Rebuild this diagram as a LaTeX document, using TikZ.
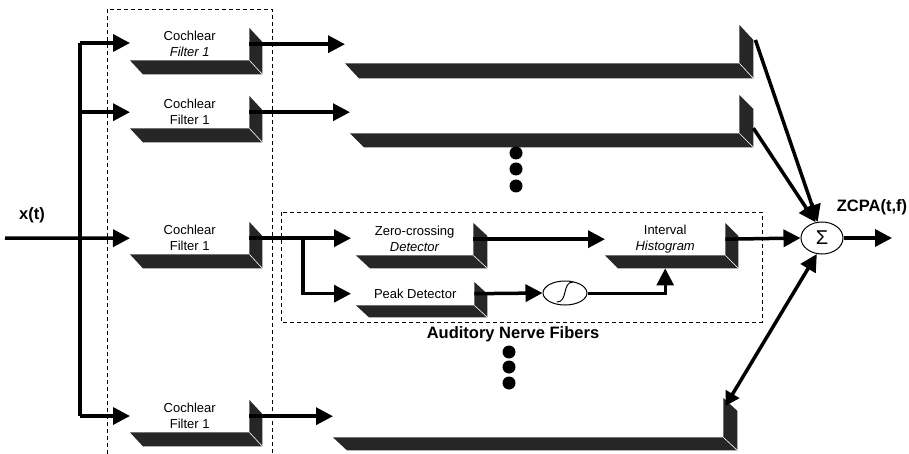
\documentclass[tikz,border=0pt]{standalone}
\usepackage{fontspec}
\setmainfont{Liberation Sans}
\usetikzlibrary{positioning, calc, arrows.meta, shapes.geometric}
\colorlet{slabcol}{black!85}
% dark bottom and right faces behind a white front face
\newcommand{\slab}[2]{%
  \fill[slabcol] (#1.south west) -- (#1.south east) -- ($(#1.south east)+(#2)$) -- ($(#1.south west)+(#2)$) -- cycle;
  \fill[slabcol] (#1.north east) -- ($(#1.north east)+(#2)$) -- ($(#1.south east)+(#2)$) -- (#1.south east) -- cycle;
  \draw[white, line width=0.6pt] (#1.south east) -- ($(#1.south east)+(#2)$);}

\begin{document}
\begin{tikzpicture}[x=1pt, y=-1pt, font=\fontsize{13}{16}\selectfont,
  face/.style={inner sep=0, align=center, anchor=north west},
  arr/.style={line width=3.5pt, -{Triangle[length=17pt,width=17pt]}},
  wire/.style={line width=3.5pt},
  frame/.style={line width=0.8pt, dash pattern=on 4pt off 3pt},
  dot/.style={circle, fill, inner sep=0, minimum size=13pt},
  big/.style={font=\bfseries\fontsize{16.5}{18}\selectfont}]
  \useasboundingbox (0,0) rectangle (909,454);
  % cochlear filters
  \node[face, minimum width=119pt, minimum height=32pt] (F1) at (130,28) {Cochlear\\\textit{Filter 1}};
  \node[face, minimum width=119pt, minimum height=32pt] (F2) at (130,96) {Cochlear\\Filter 1};
  \node[face, minimum width=119pt, minimum height=32pt] (F3) at (130,222) {Cochlear\\Filter 1};
  \node[face, minimum width=119pt, minimum height=32pt] (F4) at (130,400) {Cochlear\\Filter 1};
  \foreach \n in {F1,F2,F3,F4} {\slab{\n}{13,14}}
  % collapsed fibers
  \node[face, minimum width=394pt, minimum height=38pt] (L1) at (345,25) {};
  \node[face, minimum width=389pt, minimum height=38pt] (L2) at (350,95) {};
  \node[face, minimum width=390pt, minimum height=39pt] (L4) at (333,398) {};
  \slab{L1}{14,15} \slab{L2}{14,14} \slab{L4}{14,13}
  % one fiber in detail
  \node[face, minimum width=117pt, minimum height=32pt] (ZCD) at (356,223) {Zero-crossing\\\textit{Detector}};
  \node[face, minimum width=118pt, minimum height=23pt] (PD) at (356,282) {Peak Detector};
  \node[face, minimum width=120pt, minimum height=32pt] (IH) at (605,223) {Interval\\\textit{Histogram}};
  \slab{ZCD}{14,13} \slab{PD}{13,12} \slab{IH}{13,13}
  \node[draw, ellipse, line width=1pt, inner sep=0, minimum width=44pt, minimum height=24pt] (NL) at (565,293) {};
  \draw[line width=1pt] ($(NL)+(-8,9)$) .. controls ($(NL)+(3,9)$) and ($(NL)+(-3,-11)$) .. ($(NL)+(8,-11)$);
  \node[draw, ellipse, line width=1pt, inner sep=0, minimum width=42pt, minimum height=32pt, font=\fontsize{20}{20}\selectfont] (S) at (822,238) {Σ};
  % labels
  \node[big] (XT) at (32,215) {x(t)};
  \node[big] (ZC) at (872,207) {ZCPA(t,f)};
  \node[big] (ANF) at (513,334) {Auditory Nerve Fibers};
  \foreach \y in {153,169,186} \node[dot] (u\y) at (516,\y) {};
  \foreach \y in {352,367,383} \node[dot] (d\y) at (509,\y) {};
  % frames
  \draw[frame] (107,454) -- (107,9) -- (272,9) -- (272,454);
  \draw[frame] (281,212) rectangle (762,322);
  % connectors
  \coordinate (T1) at (80,43); \coordinate (T4) at (80,416);
  \coordinate (IN) at (5,238); \coordinate (OUT) at (892,238);
  \coordinate (BR) at (303,238);
  \draw[wire] (T1) -- (T4);
  \draw[arr] (T1) -- (T1 -| F1.west);
  \draw[arr] (F2.west -| T1) -- (F2.west);
  \draw[arr] (IN) -- (F3.west);
  \draw[arr] (T4) -- (T4 -| F4.west);
  \draw[arr] (F1.east) -- (F1.east -| L1.west);
  \draw[arr] (F2.east) -- (F2.east -| L2.west);
  \draw[arr] (F4.east) -- (F4.east -| L4.west);
  \draw[arr, shorten >=5pt] (F3.east) -- (F3.east -| ZCD.west);
  \draw[arr, shorten >=5pt] (BR) |- (PD.west);
  \draw[arr] (ZCD.east) -- (ZCD.east -| IH.west);
  \draw[arr] (PD.east) -- (NL.west);
  \draw[arr, line width=3pt] (NL.east) -| ($(IH.south)+(0,13)$);
  \draw[arr] (IH.east) -- (S.west);
  \draw[arr] (S.east) -- (OUT);
  \draw[arr] ($(L1.north east)+(16,15)$) -- (S.105);
  \draw[arr] ($(L2.east)+(14,14)$) -- (S.112);
  \draw[arr, {Triangle[length=14pt,width=15pt]}-{Triangle[length=17pt,width=17pt]}] ($(L4.north east)+(2,8)$) -- (S.252);
\end{tikzpicture}
\end{document}
